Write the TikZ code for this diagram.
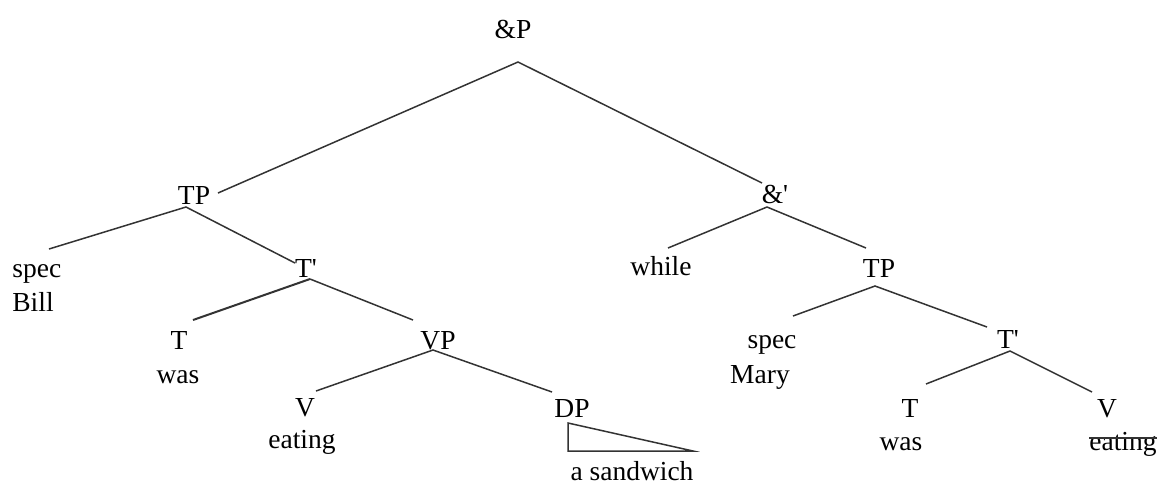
\documentclass[tikz,border=0pt]{standalone}
\usepackage{fontspec}
\setmainfont{Liberation Serif}

\tikzset{
    lbl/.style={inner sep=0pt, anchor=base, font=\fontsize{13.75pt}{16pt}\selectfont},
    br/.style={line width=0.75pt, draw=black!80},
}

\begin{document}
\begin{tikzpicture}[x=0.5pt,y=-0.5pt]
    \useasboundingbox (0,0) rectangle (1158,484);
    % category labels and words
    \node[lbl] (andP) at (513,38) {\&P};
    \node[lbl] (tp1) at (194,204) {TP};
    \node[lbl] (andbar) at (775,203) {\&\textquotesingle};
    \node[lbl, anchor=base west] (spec1) at (12,277) {spec};
    \node[lbl, anchor=base west] (bill) at (12,311) {Bill};
    \node[lbl] (tbar1) at (306,277) {T\textquotesingle};
    \node[lbl] (t1) at (179,349) {T};
    \node[lbl] (was1) at (178,383) {was};
    \node[lbl] (vp) at (438,349) {VP};
    \node[lbl] (v1) at (305,416) {V};
    \node[lbl] (eat1) at (302,448) {eating};
    \node[lbl] (dp) at (572,417) {DP};
    \node[lbl] (sandw) at (632,480) {a sandwich};
    \node[lbl] (while) at (661,275) {while};
    \node[lbl] (tp2) at (879,277) {TP};
    \node[lbl] (spec2) at (772,348) {spec};
    \node[lbl] (mary) at (760,383) {Mary};
    \node[lbl] (tbar2) at (1008,348) {T\textquotesingle};
    \node[lbl] (t2) at (910,417) {T};
    \node[lbl] (was2) at (901,450) {was};
    \node[lbl] (v2) at (1107,417) {V};
    \node[lbl] (eat2) at (1123,450) {eating};

    % branch points
    \coordinate (andP-b) at (518,62);
    \coordinate (andP-l) at (218,193);
    \coordinate (andP-r) at (762,183);
    \coordinate (tp1-b) at (186,207);
    \coordinate (tp1-l) at (49,249);
    \coordinate (tp1-r) at (295,263);
    \coordinate (tbar1-b) at (310,279);
    \coordinate (tbar1-l) at (193,320);
    \coordinate (tbar1-r) at (413,320);
    \coordinate (vp-b) at (433,350);
    \coordinate (vp-l) at (316,391);
    \coordinate (vp-r) at (552,392);
    \coordinate (andbar-b) at (767,207);
    \coordinate (andbar-l) at (668,248);
    \coordinate (andbar-r) at (866,248);
    \coordinate (tp2-b) at (875,286);
    \coordinate (tp2-l) at (793,316);
    \coordinate (tp2-r) at (987,327);
    \coordinate (tbar2-b) at (1010,351);
    \coordinate (tbar2-l) at (926,384);
    \coordinate (tbar2-r) at (1092,392);
    \coordinate (tri1) at (568,423);
    \coordinate (tri2) at (568,451);
    \coordinate (tri3) at (693,451);

    % branches
    \draw[br] (andP-l) -- (andP-b) -- (andP-r);
    \draw[br] (tp1-l) -- (tp1-b) -- (tp1-r);
    \draw[br, line width=1pt] (tbar1-l) -- (tbar1-b);
    \draw[br] (tbar1-b) -- (tbar1-r);
    \draw[br] (vp-l) -- (vp-b) -- (vp-r);
    \draw[br] (andbar-l) -- (andbar-b) -- (andbar-r);
    \draw[br] (tp2-l) -- (tp2-b) -- (tp2-r);
    \draw[br] (tbar2-l) -- (tbar2-b) -- (tbar2-r);
    \draw[br] (tri1) -- (tri2) -- (tri3) -- cycle;

    % deleted copy
    \draw[br] ([yshift=6pt]eat2.base west) -- ([yshift=6pt]eat2.base east);
\end{tikzpicture}
\end{document}
